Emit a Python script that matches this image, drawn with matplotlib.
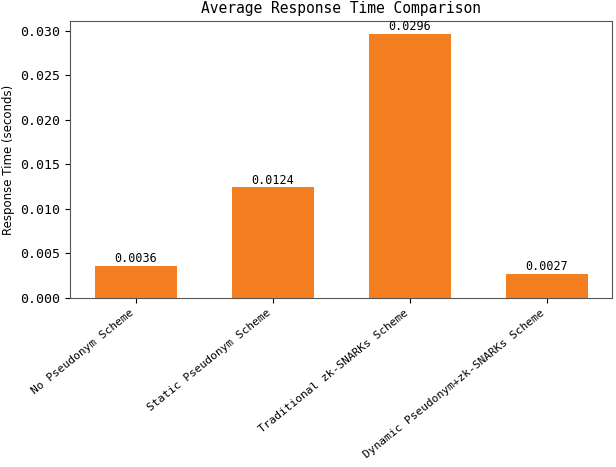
import matplotlib
matplotlib.use("Agg")
import matplotlib.pyplot as plt

schemes = ["No Pseudonym Scheme", "Static Pseudonym Scheme",
           "Traditional zk-SNARKs Scheme", "Dynamic Pseudonym+zk-SNARKs Scheme"]
response_times = [0.0036, 0.0124, 0.0296, 0.0027]
value_labels = ["0.0036", "0.0124", "0.0296", "0.0027"]

plt.rcParams['font.family'] = ['DejaVu Sans Mono']

fig = plt.figure(figsize=(6.16, 4.67), dpi=100)
ax = fig.add_axes([0.114, 0.362, 0.88, 0.593])

bars = ax.bar(range(len(schemes)), response_times, width=0.6, color='#f47f20')
for bar, txt in zip(bars, value_labels):
    ax.text(bar.get_x() + bar.get_width() / 2, bar.get_height() + 0.0001, txt,
            ha='center', va='bottom', fontsize=8.5)

ax.set_xticks(range(len(schemes)))
ax.set_xticklabels(schemes, rotation=39, ha='right', fontsize=8.1)
ax.set_ylabel('Response Time (seconds)', fontsize=8.5, family='DejaVu Sans')
ax.set_title('Average Response Time Comparison', fontsize=10.5)
ax.set_yticks([0.0, 0.005, 0.010, 0.015, 0.020, 0.025, 0.030])
ax.set_yticklabels(['0.000', '0.005', '0.010', '0.015', '0.020', '0.025', '0.030'], fontsize=9.5)
for s in ax.spines.values():
    s.set_color('#555555')

fig.savefig('out.png', dpi=100)
